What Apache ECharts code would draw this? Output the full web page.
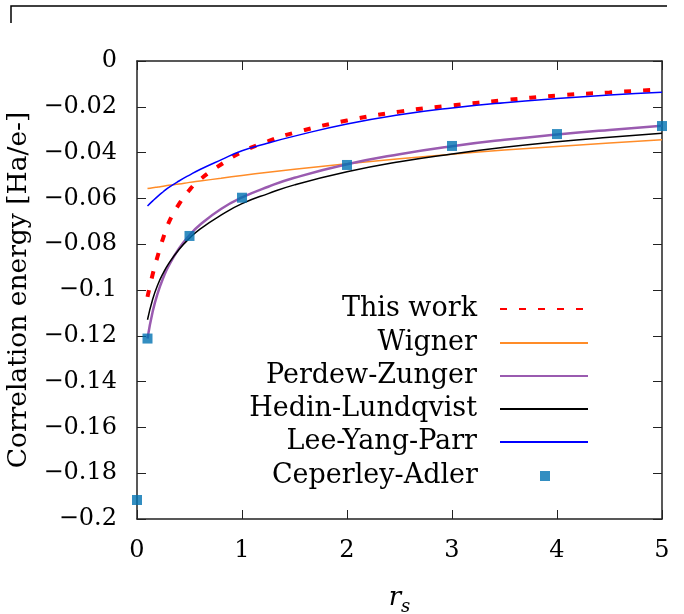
<!DOCTYPE html>
<html>
<head>
<meta charset="utf-8">
<script src="https://cdn.jsdelivr.net/npm/echarts@6/dist/echarts.min.js"></script>
<style>
html, body { margin: 0; padding: 0; background: #fff; }
#chart { width: 684px; height: 614px; }
</style>
</head>
<body>
<div id="chart"></div>
<script>
// r_s sample points for the curves
let RS = [0.1, 0.15, 0.2, 0.25, 0.3, 0.4, 0.5, 0.6, 0.8, 1, 1.25, 1.5, 2, 2.5, 3, 3.5, 4, 4.5, 5];

let THIS_WORK = [-0.1030, -0.0930, -0.0847, -0.0772, -0.0708, -0.0625, -0.0563, -0.0518, -0.0452, -0.0397,
    -0.0350, -0.0313, -0.0260, -0.0221, -0.0194, -0.0171, -0.0151, -0.0137, -0.0124];
let WIGNER = [-0.0557, -0.0553, -0.0550, -0.0547, -0.0543, -0.0537, -0.0530, -0.0524, -0.0512, -0.0500,
    -0.0486, -0.0473, -0.0449, -0.0427, -0.0407, -0.0389, -0.0373, -0.0358, -0.0344];
let PERDEW_ZUNGER = [-0.1212, -0.1093, -0.1010, -0.0947, -0.0896, -0.0819, -0.0761, -0.0715, -0.0646, -0.0596,
    -0.0549, -0.0510, -0.0451, -0.0407, -0.0372, -0.0344, -0.0321, -0.0301, -0.0283];
let HEDIN_LUNDQVIST = [-0.1130, -0.1039, -0.0975, -0.0926, -0.0886, -0.0823, -0.0774, -0.0734, -0.0673, -0.0623,
    -0.0579, -0.0541, -0.0484, -0.0440, -0.0406, -0.0377, -0.0353, -0.0333, -0.0315];
let LEE_YANG_PARR = [-0.0633, -0.0611, -0.0590, -0.0571, -0.0553, -0.0524, -0.0498, -0.0474, -0.0432, -0.0392,
    -0.0358, -0.0328, -0.0275, -0.0235, -0.0205, -0.0182, -0.0164, -0.0149, -0.0137];

// Ceperley-Adler points
let CA_RS = [0, 0.1, 0.5, 1, 2, 3, 4, 5];
let CA_E = [-0.1917, -0.1212, -0.0764, -0.0597, -0.0454, -0.0371, -0.0319, -0.0284];

let NAMES = ['This work', 'Wigner', 'Perdew-Zunger', 'Hedin-Lundqvist', 'Lee-Yang-Parr', 'Ceperley-Adler'];

let FONT = 'DejaVu Serif';

function pairs(xs, ys) {
    return xs.map((x, i) => [x, ys[i]]);
}

function lineSeries(name, values, color, width, type) {
    return {
        name: name,
        type: 'line',
        data: pairs(RS, values),
        smooth: 0.5,
        symbol: 'none',
        lineStyle: { color: color, width: width, type: type || 'solid' },
        itemStyle: { color: color }
    };
}

function fmtY(v) {
    if (Math.abs(v) < 1e-9) return '0';
    return '\u2212' + (+Math.abs(v).toFixed(2));
}

window.onload = function() {
    let myChart = echarts.init(document.getElementById('chart'), null, { renderer: 'canvas' });

    let axisLine = { show: true, onZero: false, lineStyle: { color: '#222', width: 1.5 } };
    let axisTick = { show: true, inside: true, length: 9, lineStyle: { color: '#222', width: 1 } };

    // one legend per row so the text right edges and icons line up
    let rowTop = [294, 328, 361, 394, 427, 461];
    let legends = NAMES.map((n, i) => {
        let isCA = (i == 5);
        return {
            data: [n],
            orient: 'vertical',
            align: 'right',
            right: isCA ? 134 : 95,
            top: rowTop[i],
            padding: 0,
            itemWidth: isCA ? 10 : 88,
            itemHeight: isCA ? 10 : 14,
            selectedMode: false,
            itemStyle: isCA ? {} : { opacity: 0 },
            textStyle: {
                fontFamily: FONT,
                fontSize: 27,
                color: '#000',
                lineHeight: 30,
                padding: [0, isCA ? 57 : 18, 0, 0]
            }
        };
    });

    let option = {
        animation: false,
        backgroundColor: '#fff',
        grid: { left: 137, right: 22, top: 61, bottom: 95, outerBoundsMode: 'none', containLabel: false },
        legend: legends,
        xAxis: [{
            type: 'value',
            min: 0,
            max: 5,
            interval: 1,
            name: '{r|r}{s|s}',
            nameLocation: 'middle',
            nameGap: 66,
            nameTextStyle: {
                rich: {
                    r: { fontFamily: FONT, fontStyle: 'italic', fontSize: 26, lineHeight: 26, verticalAlign: 'top', color: '#000' },
                    s: { fontFamily: FONT, fontStyle: 'italic', fontSize: 18, lineHeight: 31, verticalAlign: 'bottom', color: '#000' }
                }
            },
            axisLine: axisLine,
            axisTick: axisTick,
            splitLine: { show: false },
            axisLabel: { fontFamily: FONT, fontSize: 24, color: '#000', margin: 20 }
        }, {
            type: 'value',
            position: 'top',
            min: 0,
            max: 5,
            interval: 1,
            axisLine: axisLine,
            axisTick: axisTick,
            splitLine: { show: false },
            axisLabel: { show: false }
        }],
        yAxis: [{
            type: 'value',
            min: -0.2,
            max: 0,
            interval: 0.02,
            name: 'Correlation energy [Ha/e-]',
            nameLocation: 'middle',
            nameGap: 95,
            nameTextStyle: { fontFamily: FONT, fontSize: 26.5, color: '#000' },
            axisLine: axisLine,
            axisTick: axisTick,
            splitLine: { show: false },
            axisLabel: { fontFamily: FONT, fontSize: 24, color: '#000', margin: 20, formatter: fmtY }
        }, {
            type: 'value',
            position: 'right',
            min: -0.2,
            max: 0,
            interval: 0.02,
            axisLine: axisLine,
            axisTick: axisTick,
            splitLine: { show: false },
            axisLabel: { show: false }
        }],
        graphic: [{
            type: 'polyline',
            shape: { points: [[11, 23], [11, 6], [667, 6]] },
            style: { stroke: '#000', lineWidth: 1.5, fill: null }
        }],
        series: [
            lineSeries(NAMES[0], THIS_WORK, '#ff0000', 4, [7, 12]),
            lineSeries(NAMES[1], WIGNER, '#ff8c28', 1.5),
            lineSeries(NAMES[2], PERDEW_ZUNGER, '#9a5bb0', 2.5),
            lineSeries(NAMES[3], HEDIN_LUNDQVIST, '#000000', 1.5),
            lineSeries(NAMES[4], LEE_YANG_PARR, '#0000ff', 1.5),
            {
                name: NAMES[5],
                type: 'scatter',
                data: pairs(CA_RS, CA_E),
                symbol: 'rect',
                symbolSize: 10,
                itemStyle: { color: '#0072b2' },
                z: 5
            }
        ]
    };
    myChart.setOption(option, true);
}
</script>
</body>
</html>
